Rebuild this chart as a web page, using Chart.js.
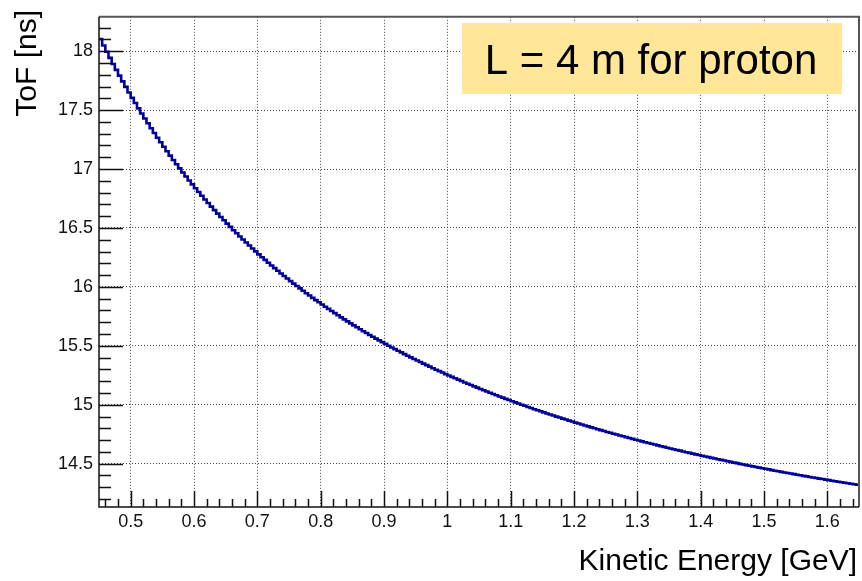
<!DOCTYPE html>
<html>
<head>
<meta charset="utf-8">
<script src="https://cdn.jsdelivr.net/npm/chart.js@4.4.1/dist/chart.umd.min.js"></script>
<style>
  html, body { margin: 0; padding: 0; background: #fff; }
  #wrap { width: 862px; height: 581px; }
</style>
</head>
<body>
<div id="wrap"><canvas id="tof-chart" width="862" height="581"></canvas></div>
<script>
// histogram: 240 bins of 5 MeV, 0.45 -> 1.65 GeV, value = ToF at bin low edge
const binLow = 0.45, binWidth = 0.005;
const tofNs = [
  18.103, 18.049, 17.996, 17.943, 17.892, 17.842, 17.793, 17.744, 17.697, 17.650,
  17.604, 17.560, 17.515, 17.472, 17.429, 17.388, 17.346, 17.306, 17.266, 17.227,
  17.189, 17.151, 17.114, 17.077, 17.041, 17.006, 16.971, 16.937, 16.903, 16.870,
  16.837, 16.805, 16.773, 16.742, 16.712, 16.681, 16.651, 16.622, 16.593, 16.565,
  16.537, 16.509, 16.481, 16.455, 16.428, 16.402, 16.376, 16.351, 16.326, 16.301,
  16.276, 16.252, 16.229, 16.205, 16.182, 16.159, 16.137, 16.114, 16.092, 16.071,
  16.049, 16.028, 16.007, 15.987, 15.967, 15.946, 15.927, 15.907, 15.888, 15.869,
  15.850, 15.831, 15.813, 15.795, 15.777, 15.759, 15.741, 15.724, 15.707, 15.690,
  15.673, 15.657, 15.640, 15.624, 15.608, 15.592, 15.577, 15.561, 15.546, 15.531,
  15.516, 15.501, 15.486, 15.472, 15.458, 15.444, 15.429, 15.416, 15.402, 15.388,
  15.375, 15.362, 15.349, 15.336, 15.323, 15.310, 15.297, 15.285, 15.273, 15.260,
  15.248, 15.236, 15.224, 15.213, 15.201, 15.189, 15.178, 15.167, 15.156, 15.145,
  15.134, 15.123, 15.112, 15.101, 15.091, 15.080, 15.070, 15.060, 15.050, 15.040,
  15.030, 15.020, 15.010, 15.000, 14.991, 14.981, 14.972, 14.962, 14.953, 14.944,
  14.935, 14.926, 14.917, 14.908, 14.899, 14.891, 14.882, 14.874, 14.865, 14.857,
  14.848, 14.840, 14.832, 14.824, 14.816, 14.808, 14.800, 14.792, 14.784, 14.777,
  14.769, 14.762, 14.754, 14.747, 14.739, 14.732, 14.725, 14.717, 14.710, 14.703,
  14.696, 14.689, 14.682, 14.675, 14.669, 14.662, 14.655, 14.648, 14.642, 14.635,
  14.629, 14.622, 14.616, 14.610, 14.603, 14.597, 14.591, 14.585, 14.579, 14.573,
  14.567, 14.561, 14.555, 14.549, 14.543, 14.537, 14.532, 14.526, 14.520, 14.515,
  14.509, 14.504, 14.498, 14.493, 14.487, 14.482, 14.477, 14.471, 14.466, 14.461,
  14.456, 14.451, 14.445, 14.440, 14.435, 14.430, 14.425, 14.421, 14.416, 14.411,
  14.406, 14.401, 14.396, 14.392, 14.387, 14.382, 14.378, 14.373, 14.369, 14.364,
  14.360, 14.355, 14.351, 14.346, 14.342, 14.338, 14.333, 14.329, 14.325, 14.321
];

const xTicks      = [0.5, 0.6, 0.7, 0.8, 0.9, 1.0, 1.1, 1.2, 1.3, 1.4, 1.5, 1.6];
const xTickLabels = ['0.5', '0.6', '0.7', '0.8', '0.9', '1', '1.1', '1.2', '1.3', '1.4', '1.5', '1.6'];
const yTicks      = [14.5, 15, 15.5, 16, 16.5, 17, 17.5, 18];
const yTickLabels = ['14.5', '15', '15.5', '16', '16.5', '17', '17.5', '18'];
const xMin = 0.45, xMax = 1.65;
const yMin = 14.132, yMax = 18.292;

const xTitle = 'Kinetic Energy [GeV]';
const yTitle = 'ToF [ns]';
const boxText = 'L = 4 m for proton';

const FONT = "'Liberation Sans', Arial, Helvetica, sans-serif";
Chart.defaults.font.family = FONT;
Chart.defaults.color = '#000';

const points = tofNs.map((v, i) => ({ x: binLow + i * binWidth, y: v }));
// close the last bin at its upper edge
points.push({ x: binLow + tofNs.length * binWidth, y: tofNs[tofNs.length - 1] });

// ROOT-like frame, inward ticks, titles and the label box
const rootDecor = {
  id: 'rootDecor',
  afterDraw(chart) {
    const { ctx, chartArea: a, scales: { x, y } } = chart;
    ctx.save();

    ctx.strokeStyle = '#555';
    ctx.lineWidth = 2;
    ctx.beginPath();
    ctx.moveTo(a.left, a.top);
    ctx.lineTo(a.right, a.top);
    ctx.lineTo(a.right, a.bottom);
    ctx.stroke();

    ctx.strokeStyle = '#111';
    ctx.lineWidth = 1.5;
    ctx.beginPath();
    ctx.moveTo(a.left, a.top);
    ctx.lineTo(a.left, a.bottom);
    ctx.lineTo(a.right, a.bottom);
    ctx.stroke();

    ctx.lineWidth = 1.5;
    ctx.beginPath();
    for (let k = 23; k <= 82; k++) {          // every 0.02 GeV
      const px = Math.round(x.getPixelForValue(k * 0.02)) + 0.5;
      const len = k % 5 === 0 ? 16 : 8;
      ctx.moveTo(px, a.bottom);
      ctx.lineTo(px, a.bottom - len);
    }
    for (let k = 142; k <= 182; k++) {        // every 0.1 ns
      const py = Math.round(y.getPixelForValue(k / 10)) + 0.5;
      const len = k % 5 === 0 ? 24 : 12;
      ctx.moveTo(a.left, py);
      ctx.lineTo(a.left + len, py);
    }
    ctx.stroke();

    ctx.fillStyle = '#000';
    ctx.font = '30px ' + FONT;
    ctx.textAlign = 'right';
    ctx.textBaseline = 'alphabetic';
    ctx.fillText(xTitle, 857, 570);

    ctx.save();
    ctx.translate(36, 10);
    ctx.rotate(-Math.PI / 2);
    ctx.textAlign = 'right';
    ctx.fillText(yTitle, 0, 0);
    ctx.restore();

    ctx.fillStyle = '#ffe699';
    ctx.fillRect(462, 23, 380, 71);
    ctx.fillStyle = '#000';
    ctx.font = '42px ' + FONT;
    ctx.textAlign = 'center';
    ctx.fillText(boxText, 651, 74);

    ctx.restore();
  }
};

new Chart(document.getElementById('tof-chart'), {
  type: 'line',
  data: {
    datasets: [{
      label: 'ToF',
      data: points,
      stepped: true,
      borderColor: '#000099',
      borderWidth: 2.6,
      pointRadius: 0,
      fill: false,
      tension: 0
    }]
  },
  options: {
    responsive: false,
    animation: false,
    events: [],
    layout: { padding: { left: 0, top: 9, right: 3, bottom: 0 } },
    plugins: { legend: { display: false }, tooltip: { enabled: false } },
    scales: {
      x: {
        type: 'linear', min: xMin, max: xMax,
        afterBuildTicks: s => { s.ticks = xTicks.map(v => ({ value: v })); },
        afterFit: s => { s.height = 74; },
        grid: { color: '#444', lineWidth: 1, drawTicks: false },
        border: { display: false, dash: [1, 2] },
        ticks: {
          padding: 4, color: '#111', font: { size: 18 },
          maxRotation: 0, autoSkip: false,
          callback: (v, i) => xTickLabels[i]
        }
      },
      y: {
        type: 'linear', min: yMin, max: yMax,
        afterBuildTicks: s => { s.ticks = yTicks.map(v => ({ value: v })); },
        afterFit: s => { s.width = 99; },
        grid: { color: '#444', lineWidth: 1, drawTicks: false },
        border: { display: false, dash: [1, 2] },
        ticks: {
          padding: 6, color: '#111', font: { size: 18 },
          autoSkip: false,
          callback: (v, i) => yTickLabels[i]
        }
      }
    }
  },
  plugins: [rootDecor]
});
</script>
</body>
</html>
